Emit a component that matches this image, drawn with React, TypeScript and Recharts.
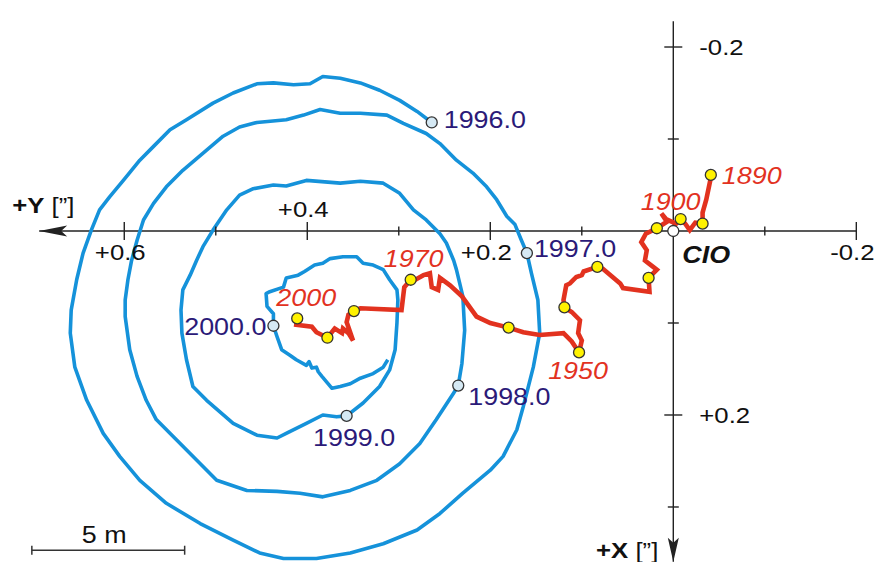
import React from "react";
import { ComposedChart, Line, Scatter, XAxis, YAxis } from "recharts";

// Polar motion 1996.0 - 2000.x in arcsec. yArc = +Y (drawn to the left), xArc = +X (drawn downward)
const wobbleY = [
  0.264, 0.280, 0.299, 0.321, 0.342, 0.364, 0.383, 0.397, 0.415, 0.437, 0.455, 0.481, 0.503, 0.532, 0.550, 0.568, 0.583,
  0.601, 0.616, 0.627, 0.636, 0.645, 0.652, 0.658, 0.659, 0.654, 0.641, 0.623, 0.605, 0.583, 0.554, 0.517, 0.481, 0.452,
  0.426, 0.390, 0.353, 0.317, 0.280, 0.255, 0.230, 0.200, 0.186, 0.171, 0.164, 0.153, 0.146, 0.148, 0.155, 0.160,
  0.166, 0.173, 0.182, 0.193, 0.204, 0.219, 0.237, 0.255, 0.270, 0.295, 0.313, 0.342, 0.364, 0.386, 0.404, 0.423, 0.455,
  0.474, 0.492, 0.510, 0.536, 0.554, 0.568, 0.579, 0.586, 0.592, 0.596, 0.599, 0.599, 0.594, 0.586, 0.576, 0.565, 0.543,
  0.521, 0.499, 0.466, 0.433, 0.408, 0.383, 0.353, 0.324, 0.299, 0.277, 0.259, 0.240, 0.235,
  0.231, 0.228, 0.230, 0.237, 0.240, 0.248, 0.255, 0.270, 0.284, 0.299, 0.317, 0.342, 0.364, 0.401, 0.423, 0.437, 0.459,
  0.474, 0.488, 0.503, 0.514, 0.521, 0.528, 0.536, 0.538, 0.537, 0.532, 0.525, 0.510, 0.481, 0.455, 0.433, 0.423, 0.401,
  0.383, 0.368, 0.357,
  0.339, 0.321, 0.310, 0.304, 0.302, 0.301, 0.302, 0.310, 0.317, 0.328, 0.339, 0.346, 0.361, 0.375, 0.383, 0.392, 0.403,
  0.410, 0.423, 0.426, 0.441, 0.445, 0.444, 0.437, 0.437, 0.433, 0.428, 0.419, 0.412, 0.401, 0.398, 0.395, 0.390, 0.388,
  0.384, 0.373, 0.364, 0.353, 0.342, 0.328, 0.317, 0.312,
];
const wobbleX = [
  -0.118, -0.130, -0.142, -0.153, -0.161, -0.166, -0.168, -0.160, -0.159, -0.161, -0.160, -0.150, -0.139, -0.121, -0.110,
  -0.092, -0.077, -0.055, -0.037, -0.023, -0.001, 0.024, 0.053, 0.086, 0.111, 0.148, 0.184, 0.220, 0.245, 0.271, 0.296,
  0.318, 0.336, 0.350, 0.356, 0.356, 0.350, 0.340, 0.325, 0.307, 0.285, 0.260, 0.245, 0.216, 0.191, 0.148, 0.111, 0.075,
  0.046, 0.024,
  0.010, -0.007, -0.016, -0.034, -0.048, -0.063, -0.077, -0.095, -0.106, -0.117, -0.126, -0.128, -0.128, -0.132, -0.126,
  -0.121, -0.118, -0.113, -0.103, -0.088, -0.066, -0.048, -0.030, -0.012, 0.010, 0.032, 0.053, 0.075, 0.093, 0.129, 0.158,
  0.184, 0.205, 0.227, 0.249, 0.271, 0.282, 0.283, 0.285, 0.289, 0.282, 0.271, 0.253, 0.231, 0.205, 0.176, 0.168,
  0.144, 0.108, 0.071, 0.042, 0.032, 0.013, 0.003, -0.012, -0.023, -0.041, -0.052, -0.054, -0.052, -0.055, -0.049, -0.050,
  -0.046, -0.039, -0.023, -0.001, 0.017, 0.032, 0.048, 0.064, 0.086, 0.111, 0.140, 0.169, 0.184, 0.209, 0.222, 0.225,
  0.220, 0.209, 0.200, 0.202, 0.201,
  0.187, 0.169, 0.151, 0.129, 0.100, 0.075, 0.064, 0.053, 0.042, 0.037, 0.035, 0.028, 0.028, 0.030, 0.035, 0.037, 0.044,
  0.048, 0.051, 0.061, 0.066, 0.068, 0.082, 0.090, 0.103, 0.115, 0.129, 0.135, 0.140, 0.146, 0.142, 0.149, 0.148, 0.153,
  0.158, 0.171, 0.169, 0.166, 0.160, 0.155, 0.148, 0.140,
];
const wobbleEpochs = ["1996.0", "1997.0", "1998.0", "1999.0", "2000.0"];
const wobbleEpochIndex = [0, 49, 96, 133, 158];

// mean pole path 1890 - 2000
const meanPoleY = [
  -0.041, -0.041, -0.036, -0.032, -0.032, -0.024, -0.018, -0.013, -0.008, -0.003, 0.008, 0.013, 0.007, 0.018, 0.030,
  0.035, 0.029, 0.031, 0.022, 0.018, 0.027, 0.026, 0.055, 0.058, 0.077, 0.083, 0.098, 0.100, 0.106, 0.113, 0.117, 0.120,
  0.119, 0.111, 0.102, 0.104, 0.100, 0.103, 0.111, 0.120, 0.146, 0.164, 0.180, 0.200, 0.215, 0.231, 0.244, 0.255, 0.257,
  0.264, 0.266, 0.273, 0.282, 0.287, 0.294, 0.297, 0.342, 0.349, 0.355, 0.357, 0.350, 0.355, 0.361, 0.362, 0.370, 0.378,
  0.390, 0.395, 0.412, 0.411,
];
const meanPoleX = [
  -0.061, -0.058, -0.034, -0.020, -0.008, -0.009, -0.001, -0.008, -0.013, -0.008, -0.013, -0.019, -0.010, -0.003, 0.003,
  0.012, 0.021, 0.032, 0.039, 0.042, 0.051, 0.066, 0.062, 0.057, 0.041, 0.039, 0.044, 0.048, 0.050, 0.057, 0.059, 0.075,
  0.083, 0.088, 0.097, 0.111, 0.119, 0.132, 0.120, 0.111, 0.113, 0.110, 0.105, 0.100, 0.093, 0.071, 0.059, 0.051, 0.064,
  0.061, 0.046, 0.048, 0.053, 0.053, 0.061, 0.086, 0.084, 0.087, 0.091, 0.099, 0.119, 0.111, 0.106, 0.111, 0.106, 0.116,
  0.110, 0.104, 0.102, 0.095,
];
const meanPoleDotIndex = [0, 4, 8, 13, 20, 25, 32, 37, 42, 53, 57, 65, 69];
const meanPoleLabels: Record<number, string> = { 0: "1890", 8: "1900", 37: "1950", 53: "1970", 69: "2000" };

// axes
const yTicks = [0.6, 0.5, 0.4, 0.3, 0.2, 0.1, -0.1, -0.2];
const yTickLabels: Record<string, string> = { "0.6": "+0.6", "0.4": "+0.4", "0.2": "+0.2", "-0.2": "-0.2" };
const xTicks = [-0.2, -0.1, 0.1, 0.2, 0.3];
const xTickLabels: Record<string, string> = { "-0.2": "-0.2", "0.2": "+0.2" };
const yAxisEnds = [0.693, -0.2];
const xAxisEnds = [-0.228, 0.3595];
const scaleBarY = [0.701, 0.534];
const scaleBarX = 0.347;

const wobble = wobbleY.map((v, i) => ({ yArc: v, xArc: wobbleX[i] }));
const wobbleMarks = wobbleEpochIndex.map((idx, i) => ({ ...wobble[idx], label: wobbleEpochs[i] }));
const meanPole = meanPoleY.map((v, i) => ({ yArc: v, xArc: meanPoleX[i] }));
const meanPoleMarks = meanPoleDotIndex.map((idx) => ({ ...meanPole[idx], label: meanPoleLabels[idx] || "" }));

const FONT = "'Liberation Sans', Arial, Helvetica, sans-serif";
const STRETCH = 1.12;
const BLUE = "#1592da";
const RED = "#e2321f";
const INK = "#2b1a78";
const AXIS = "#222";

const blueLabelPos: Record<string, { dx: number; dy: number; anchor: string }> = {
  "1996.0": { dx: 12, dy: 6, anchor: "start" },
  "1997.0": { dx: 7, dy: 3.5, anchor: "start" },
  "1998.0": { dx: 10, dy: 19, anchor: "start" },
  "1999.0": { dx: 7.5, dy: 30, anchor: "middle" },
  "2000.0": { dx: -7, dy: 9.5, anchor: "end" },
};
const redLabelPos: Record<string, { dx: number; dy: number; anchor: string }> = {
  "1890": { dx: 11, dy: 9, anchor: "start" },
  "1900": { dx: -10, dy: -9.5, anchor: "middle" },
  "1950": { dx: -1, dy: 27, anchor: "middle" },
  "1970": { dx: 3, dy: -13, anchor: "middle" },
  "2000": { dx: 9, dy: -12, anchor: "middle" },
};

const Txt = ({ x, y, anchor = "start", size = 24, fill = "#111", italic = false, bold = false, children }: any) => (
  <text
    transform={`translate(${x},${y}) scale(${STRETCH},1)`}
    textAnchor={anchor}
    fontSize={size}
    fill={fill}
    fontFamily={FONT}
    fontStyle={italic ? "italic" : "normal"}
    fontWeight={bold ? "bold" : "normal"}
  >
    {children}
  </text>
);

const HTick = (props: any) => {
  const { cx, cy, payload } = props;
  const major = Math.round(Math.abs(payload.yArc) * 10) % 2 === 0;
  const len = major ? 9 : 4.5;
  const key = String(payload.yArc);
  const label = yTickLabels[key];
  const above = key === "0.4";
  return (
    <g>
      <line x1={cx} x2={cx} y1={cy - len} y2={cy + len} stroke={AXIS} strokeWidth={1.4} />
      {label && (
        <Txt x={cx - 4} y={above ? cy - 14 : cy + 29} anchor="middle" size={23}>
          {label}
        </Txt>
      )}
    </g>
  );
};

const VTick = (props: any) => {
  const { cx, cy, payload } = props;
  const major = Math.round(Math.abs(payload.xArc) * 10) % 2 === 0;
  const len = major ? 9 : 5.5;
  const label = xTickLabels[String(payload.xArc)];
  return (
    <g>
      <line x1={cx - len} x2={cx + len} y1={cy} y2={cy} stroke={AXIS} strokeWidth={1.4} />
      {label && (
        <Txt x={cx + 26} y={cy + 8} size={23}>
          {label}
        </Txt>
      )}
    </g>
  );
};

const LeftArrow = ({ cx, cy }: any) => (
  <g>
    <polygon points={`${cx},${cy} ${cx + 28},${cy - 5.5} ${cx + 22},${cy} ${cx + 28},${cy + 5.5}`} fill={AXIS} />
    <Txt x={cx - 27} y={cy - 18} size={23}>
      <tspan fontWeight="bold">+Y</tspan>
      <tspan> [”]</tspan>
    </Txt>
  </g>
);

const DownArrow = ({ cx, cy }: any) => (
  <g>
    <polygon points={`${cx},${cy} ${cx - 5.5},${cy - 24} ${cx},${cy - 19} ${cx + 5.5},${cy - 24}`} fill={AXIS} />
    <Txt x={cx - 15} y={cy - 4} anchor="end" size={23}>
      <tspan fontWeight="bold">+X</tspan>
      <tspan> [”]</tspan>
    </Txt>
  </g>
);

const CioMark = ({ cx, cy }: any) => (
  <g>
    <circle cx={cx} cy={cy} r={5.5} fill="#fff" stroke="#333" strokeWidth={1.3} />
    <Txt x={cx + 9} y={cy + 32} size={24} bold italic fill="#111">
      CIO
    </Txt>
  </g>
);

const BarEnd = ({ cx, cy }: any) => (
  <line x1={cx} x2={cx} y1={cy - 4.5} y2={cy + 4.5} stroke="#333" strokeWidth={1.5} />
);

const BarLabel = ({ cx, cy }: any) => (
  <Txt x={cx - 4} y={cy - 7} anchor="middle" size={24}>
    5 m
  </Txt>
);

const BlueMark = ({ cx, cy, payload }: any) => {
  const p = blueLabelPos[payload.label];
  return (
    <g>
      <circle cx={cx} cy={cy} r={5.5} fill="#d5e9f4" stroke="#333" strokeWidth={1.3} />
      <Txt x={cx + p.dx} y={cy + p.dy} anchor={p.anchor} size={24} fill={INK}>
        {payload.label}
      </Txt>
    </g>
  );
};

const YellowMark = ({ cx, cy, payload }: any) => {
  const p = payload.label ? redLabelPos[payload.label] : null;
  return (
    <g>
      <circle cx={cx} cy={cy} r={5.5} fill="#fff200" stroke="#333" strokeWidth={1.3} />
      {p && (
        <Txt x={cx + p.dx} y={cy + p.dy} anchor={p.anchor} size={24} fill={RED} italic>
          {payload.label}
        </Txt>
      )}
    </g>
  );
};

export default function App() {
  const hAxis = yAxisEnds.map((v) => ({ yArc: v, xArc: 0 }));
  const vAxis = xAxisEnds.map((v) => ({ yArc: 0, xArc: v }));
  const scaleBar = scaleBarY.map((v) => ({ yArc: v, xArc: scaleBarX }));
  const scaleMid = [{ yArc: (scaleBarY[0] + scaleBarY[1]) / 2, xArc: scaleBarX }];

  return (
    <div style={{ position: "absolute", left: 0, top: 0, width: 878, height: 562, background: "#fff" }}>
      <ComposedChart width={878} height={562} margin={{ top: 0, right: 0, bottom: 0, left: 0 }}>
        <XAxis type="number" dataKey="yArc" domain={[-0.2237, 0.7358]} reversed hide allowDataOverflow />
        <YAxis type="number" dataKey="xArc" domain={[-0.2511, 0.3598]} reversed hide allowDataOverflow />

        <Line data={hAxis} dataKey="xArc" stroke={AXIS} strokeWidth={1.4} dot={false} activeDot={false} isAnimationActive={false} />
        <Line data={vAxis} dataKey="xArc" stroke={AXIS} strokeWidth={1.4} dot={false} activeDot={false} isAnimationActive={false} />
        <Scatter data={yTicks.map((v) => ({ yArc: v, xArc: 0 }))} shape={HTick} isAnimationActive={false} />
        <Scatter data={xTicks.map((v) => ({ yArc: 0, xArc: v }))} shape={VTick} isAnimationActive={false} />
        <Scatter data={[hAxis[0]]} shape={LeftArrow} isAnimationActive={false} />
        <Scatter data={[vAxis[1]]} shape={DownArrow} isAnimationActive={false} />

        <Line data={scaleBar} dataKey="xArc" stroke="#333" strokeWidth={1.5} dot={false} activeDot={false} isAnimationActive={false} />
        <Scatter data={scaleBar} shape={BarEnd} isAnimationActive={false} />
        <Scatter data={scaleMid} shape={BarLabel} isAnimationActive={false} />

        <Line
          data={wobble}
          dataKey="xArc"
          stroke={BLUE}
          strokeWidth={3.6}
          strokeLinejoin="round"
          dot={false}
          activeDot={false}
          isAnimationActive={false}
        />
        <Line
          data={meanPole}
          dataKey="xArc"
          stroke={RED}
          strokeWidth={4.6}
          strokeLinejoin="miter"
          dot={false}
          activeDot={false}
          isAnimationActive={false}
        />
        <Scatter data={wobbleMarks} shape={BlueMark} isAnimationActive={false} />
        <Scatter data={meanPoleMarks} shape={YellowMark} isAnimationActive={false} />
        <Scatter data={[{ yArc: 0, xArc: 0 }]} shape={CioMark} isAnimationActive={false} />
      </ComposedChart>
    </div>
  );
}
